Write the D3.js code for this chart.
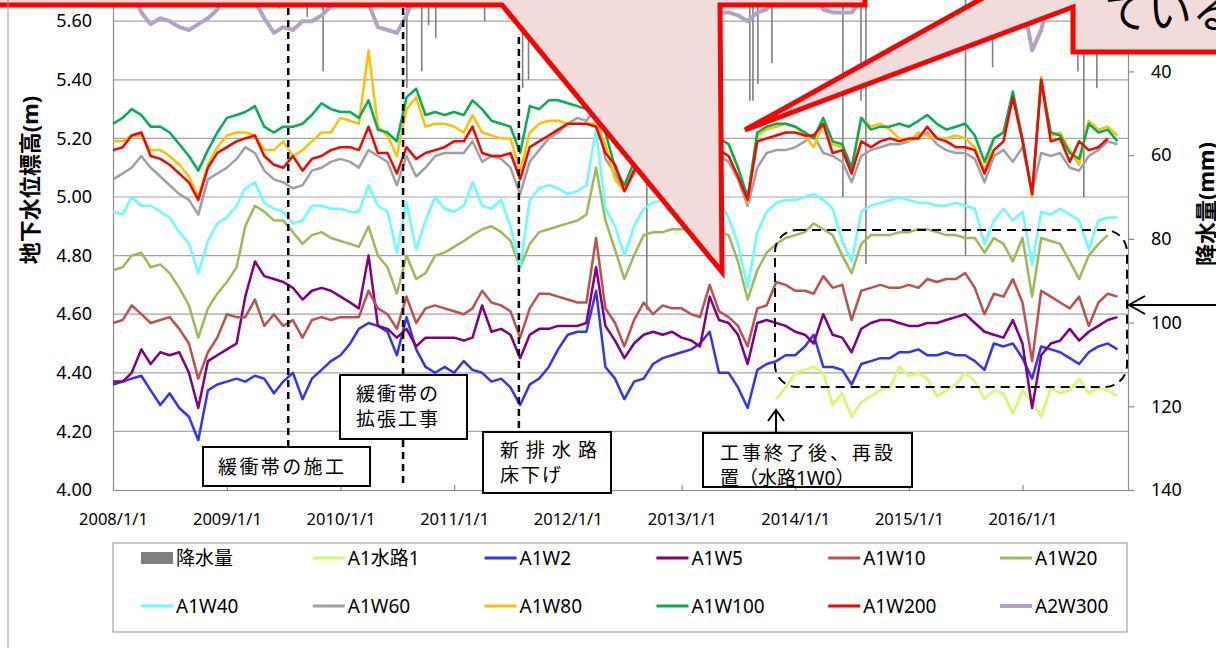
<!DOCTYPE html>
<html>
<head>
<meta charset="utf-8">
<script src="https://cdn.jsdelivr.net/npm/d3@7"></script>
<style>
	body	{ margin: 0; background: #fff; }
	svg		{ display: block; }
	text	{ font-family: "Noto Sans", "Noto Sans CJK JP", sans-serif; fill: #000; }
</style>
</head>
<body>
<svg id="chart" width="1216" height="648"></svg>
<script>
// ---- data (monthly readings, 1st of each month from 2008/1) ----
const startMonth	= new Date(2008, 0, 1);
const suiroStart	= new Date(2013, 10, 1);

// only the ticks that fall inside the visible crop of the slide
const leftTicks		= [4.0, 4.2, 4.4, 4.6, 4.8, 5.0, 5.2, 5.4, 5.6];
const rightTicks	= [40, 60, 80, 100, 120, 140];
const yearTicks		= [2008, 2009, 2010, 2011, 2012, 2013, 2014, 2015, 2016];

const a1Suiro1 = [
	4.31, 4.35,
	4.40, 4.41, 4.42, 4.40, 4.29, 4.33, 4.25, 4.30, 4.32, 4.34, 4.35, 4.42,
	4.39, 4.40, 4.38, 4.32, 4.34, 4.36, 4.40, 4.37, 4.31, 4.34, 4.33, 4.26,
	4.34, 4.30, 4.25, 4.35, 4.33, 4.34, 4.38, 4.33, 4.35, 4.34, 4.32
];
const a1w2 = [
	4.36, 4.37, 4.38, 4.39, 4.34, 4.29, 4.33, 4.28, 4.25, 4.17, 4.34, 4.36,
	4.37, 4.38, 4.37, 4.39, 4.38, 4.33, 4.37, 4.40, 4.31, 4.38, 4.41, 4.44,
	4.46, 4.50, 4.55, 4.57, 4.56, 4.54, 4.46, 4.59, 4.48, 4.42, 4.40, 4.42,
	4.40, 4.44, 4.41, 4.40, 4.37, 4.38, 4.35, 4.29, 4.36, 4.38, 4.42, 4.48,
	4.53, 4.54, 4.54, 4.68, 4.42, 4.38, 4.31, 4.37, 4.38, 4.43, 4.45, 4.46,
	4.47, 4.48, 4.50, 4.54, 4.40, 4.40, 4.35, 4.28, 4.41, 4.43, 4.44, 4.46,
	4.46, 4.49, 4.53, 4.42, 4.42, 4.41, 4.36, 4.43, 4.44, 4.45, 4.45, 4.47,
	4.47, 4.48, 4.46, 4.46, 4.47, 4.46, 4.46, 4.44, 4.41, 4.50, 4.49, 4.50,
	4.45, 4.38, 4.49, 4.48, 4.47, 4.45, 4.43, 4.47, 4.49, 4.50, 4.48
];
const a1w5 = [
	4.37, 4.37, 4.40, 4.48, 4.43, 4.47, 4.46, 4.47, 4.40, 4.28, 4.44, 4.46,
	4.48, 4.50, 4.66, 4.78, 4.73, 4.72, 4.71, 4.69, 4.65, 4.68, 4.69, 4.68,
	4.66, 4.64, 4.62, 4.80, 4.56, 4.55, 4.52, 4.55, 4.49, 4.52, 4.52, 4.52,
	4.52, 4.51, 4.52, 4.63, 4.54, 4.55, 4.53, 4.45, 4.53, 4.55, 4.55, 4.56,
	4.56, 4.56, 4.57, 4.76, 4.56, 4.51, 4.45, 4.50, 4.53, 4.54, 4.53, 4.54,
	4.52, 4.51, 4.49, 4.66, 4.58, 4.57, 4.53, 4.43, 4.57, 4.58, 4.57, 4.56,
	4.54, 4.53, 4.50, 4.60, 4.53, 4.52, 4.47, 4.55, 4.57, 4.58, 4.58, 4.57,
	4.56, 4.56, 4.57, 4.57, 4.58, 4.59, 4.60, 4.57, 4.54, 4.53, 4.52, 4.58,
	4.50, 4.28, 4.46, 4.50, 4.51, 4.55, 4.51, 4.54, 4.56, 4.58, 4.59
];
const a1w10 = [
	4.57, 4.58, 4.63, 4.60, 4.57, 4.58, 4.59, 4.55, 4.50, 4.38, 4.47, 4.52,
	4.60, 4.59, 4.59, 4.65, 4.56, 4.60, 4.56, 4.58, 4.52, 4.58, 4.59, 4.58,
	4.59, 4.59, 4.59, 4.68, 4.62, 4.60, 4.55, 4.66, 4.57, 4.62, 4.63, 4.62,
	4.61, 4.60, 4.62, 4.68, 4.64, 4.63, 4.61, 4.52, 4.62, 4.67, 4.67, 4.66,
	4.65, 4.64, 4.64, 4.86, 4.62, 4.57, 4.49, 4.58, 4.64, 4.60, 4.63, 4.62,
	4.62, 4.60, 4.59, 4.70, 4.61, 4.59, 4.56, 4.49, 4.62, 4.63, 4.71, 4.70,
	4.68, 4.68, 4.67, 4.73, 4.69, 4.70, 4.58, 4.68, 4.69, 4.70, 4.69, 4.69,
	4.70, 4.69, 4.72, 4.71, 4.72, 4.72, 4.74, 4.69, 4.60, 4.67, 4.66, 4.72,
	4.64, 4.44, 4.68, 4.66, 4.64, 4.62, 4.66, 4.56, 4.64, 4.67, 4.66
];
const a1w20 = [
	4.75, 4.76, 4.80, 4.81, 4.76, 4.77, 4.74, 4.69, 4.63, 4.52, 4.62, 4.67,
	4.71, 4.76, 4.90, 4.97, 4.95, 4.92, 4.92, 4.88, 4.84, 4.87, 4.88, 4.86,
	4.85, 4.84, 4.83, 4.90, 4.80, 4.76, 4.67, 4.80, 4.72, 4.74, 4.80, 4.81,
	4.83, 4.85, 4.87, 4.89, 4.90, 4.88, 4.85, 4.76, 4.84, 4.88, 4.89, 4.90,
	4.91, 4.92, 4.94, 5.10, 4.92, 4.82, 4.72, 4.80, 4.87, 4.88, 4.88, 4.89,
	4.89, 4.89, 4.88, 4.89, 4.88, 4.87, 4.78, 4.65, 4.75, 4.81, 4.84, 4.86,
	4.87, 4.88, 4.91, 4.89, 4.87, 4.80, 4.74, 4.84, 4.87, 4.87, 4.87, 4.88,
	4.88, 4.89, 4.89, 4.88, 4.87, 4.87, 4.86, 4.86, 4.81, 4.86, 4.84, 4.78,
	4.86, 4.66, 4.86, 4.85, 4.84, 4.78, 4.72, 4.80, 4.84, 4.87, null
];
const a1w40 = [
	4.95, 4.94, 5.00, 4.97, 4.97, 4.95, 4.93, 4.88, 4.84, 4.74, 4.85, 4.91,
	4.93, 4.97, 5.03, 5.05, 4.98, 4.96, 4.95, 4.91, 4.92, 4.97, 4.97, 4.96,
	4.96, 4.95, 4.95, 5.04, 4.97, 4.95, 4.81, 4.98, 4.82, 4.92, 5.00, 4.96,
	4.95, 4.97, 5.05, 4.97, 4.96, 4.99, 4.90, 4.76, 4.99, 5.03, 5.04, 5.03,
	5.01, 5.02, 5.04, 5.23, 4.96, 4.90, 4.80, 4.90, 4.96, 4.98, 4.99, 5.00,
	5.00, 4.99, 4.99, 5.00, 4.98, 4.93, 4.84, 4.69, 4.88, 4.95, 4.98, 4.99,
	4.99, 5.00, 5.01, 4.99, 4.96, 4.85, 4.78, 4.95, 4.97, 4.98, 4.99, 5.00,
	4.99, 4.98, 4.98, 4.97, 4.97, 4.98, 4.97, 4.96, 4.84, 4.92, 4.96, 4.92,
	4.95, 4.77, 4.95, 4.94, 4.96, 4.94, 4.92, 4.82, 4.92, 4.93, 4.93
];
const a1w60 = [
	5.06, 5.08, 5.10, 5.14, 5.10, 5.07, 5.04, 5.01, 4.99, 4.94, 5.06, 5.08,
	5.10, 5.13, 5.17, 5.15, 5.09, 5.06, 5.05, 5.03, 5.04, 5.09, 5.10, 5.12,
	5.13, 5.12, 5.10, 5.16, 5.14, 5.12, 5.04, 5.14, 5.07, 5.10, 5.14, 5.15,
	5.15, 5.15, 5.19, 5.12, 5.14, 5.13, 5.10, 5.01, 5.12, 5.16, 5.20, 5.22,
	5.25, 5.27, 5.26, 5.30, 5.13, 5.08, 5.02, 5.08, 5.12, 5.14, 5.15, 5.16,
	5.16, 5.16, 5.15, 5.14, 5.14, 5.12, 5.06, 4.97, 5.10, 5.15, 5.16, 5.16,
	5.17, 5.19, 5.21, 5.15, 5.14, 5.12, 5.05, 5.14, 5.16, 5.17, 5.18, 5.18,
	5.19, 5.21, 5.22, 5.18, 5.16, 5.15, 5.15, 5.13, 5.05, 5.14, 5.16, 5.12,
	5.17, 5.02, 5.15, 5.14, 5.15, 5.10, 5.09, 5.14, 5.16, 5.19, 5.18
];
const a1w80 = [
	5.19, 5.19, 5.21, 5.21, 5.16, 5.16, 5.14, 5.11, 5.07, 5.00, 5.11, 5.17,
	5.21, 5.22, 5.22, 5.21, 5.16, 5.16, 5.19, 5.14, 5.16, 5.19, 5.22, 5.22,
	5.27, 5.26, 5.25, 5.50, 5.24, 5.21, 5.14, 5.30, 5.34, 5.24, 5.25, 5.25,
	5.24, 5.22, 5.28, 5.22, 5.21, 5.20, 5.20, 5.09, 5.22, 5.25, 5.26, 5.26,
	5.25, 5.25, 5.25, 5.25, 5.18, 5.06, 5.02, 5.10, 5.16, 5.18, 5.20, 5.21,
	5.21, 5.21, 5.21, 5.22, 5.20, 5.18, 5.10, 4.98, 5.21, 5.23, 5.24, 5.25,
	5.24, 5.21, 5.17, 5.25, 5.18, 5.17, 5.08, 5.27, 5.24, 5.25, 5.23, 5.20,
	5.19, 5.22, 5.21, 5.20, 5.20, 5.21, 5.20, 5.17, 5.09, 5.20, 5.22, 5.35,
	5.20, 5.00, 5.41, 5.21, 5.22, 5.16, 5.11, 5.26, 5.23, 5.24, 5.21
];
const a1w100 = [
	5.25, 5.27, 5.30, 5.28, 5.24, 5.24, 5.22, 5.18, 5.14, 5.09, 5.16, 5.22,
	5.27, 5.28, 5.29, 5.31, 5.24, 5.22, 5.24, 5.24, 5.25, 5.28, 5.32, 5.30,
	5.29, 5.29, 5.27, 5.33, 5.23, 5.22, 5.19, 5.34, 5.37, 5.28, 5.29, 5.28,
	5.29, 5.28, 5.33, 5.30, 5.26, 5.25, 5.24, 5.15, 5.31, 5.30, 5.33, 5.33,
	5.32, 5.31, 5.30, 5.28, 5.22, 5.10, 5.04, 5.12, 5.18, 5.20, 5.22, 5.23,
	5.23, 5.22, 5.22, 5.22, 5.20, 5.18, 5.10, 5.00, 5.22, 5.24, 5.25, 5.25,
	5.24, 5.22, 5.20, 5.27, 5.19, 5.18, 5.10, 5.27, 5.23, 5.24, 5.24, 5.25,
	5.24, 5.26, 5.28, 5.25, 5.23, 5.24, 5.25, 5.21, 5.12, 5.20, 5.22, 5.36,
	5.20, 5.01, 5.40, 5.22, 5.21, 5.15, 5.13, 5.25, 5.22, 5.23, 5.19
];
const a1w200 = [
	5.16, 5.17, 5.21, 5.22, 5.14, 5.13, 5.11, 5.08, 5.05, 4.99, 5.10, 5.15,
	5.17, 5.19, 5.20, 5.21, 5.14, 5.11, 5.10, 5.14, 5.09, 5.13, 5.14, 5.16,
	5.17, 5.17, 5.16, 5.24, 5.15, 5.15, 5.08, 5.17, 5.13, 5.15, 5.16, 5.17,
	5.19, 5.19, 5.24, 5.15, 5.14, 5.14, 5.15, 5.06, 5.17, 5.19, 5.21, 5.23,
	5.25, 5.25, 5.25, 5.24, 5.15, 5.11, 5.02, 5.09, 5.14, 5.16, 5.17, 5.18,
	5.18, 5.18, 5.17, 5.17, 5.16, 5.14, 5.07, 4.99, 5.19, 5.20, 5.21, 5.22,
	5.22, 5.21, 5.21, 5.25, 5.15, 5.16, 5.08, 5.19, 5.17, 5.19, 5.20, 5.19,
	5.20, 5.20, 5.24, 5.20, 5.19, 5.17, 5.17, 5.16, 5.08, 5.16, 5.19, 5.34,
	5.19, 5.01, 5.40, 5.19, 5.20, 5.12, 5.19, 5.16, 5.17, 5.20, null
];
const a2w300 = [
	5.70, 5.71, 5.70, 5.63, 5.59, 5.61, 5.60, 5.58, 5.57, 5.59, 5.61, 5.64,
	5.70, 5.72, 5.72, 5.67, 5.61, 5.56, 5.58, 5.57, 5.60, 5.60, 5.62, 5.65,
	5.70, 5.72, 5.71, 5.66, 5.58, 5.57, 5.56, 5.62, 5.70, 5.72, 5.73, 5.72,
	5.72, 5.73, 5.72, 5.71, 5.72, 5.73, 5.72, 5.71, 5.72, 5.73, 5.72, 5.72,
	5.73, 5.72, 5.72, 5.71, 5.72, 5.73, 5.72, 5.72, 5.71, 5.72, 5.73, 5.72,
	5.72, 5.73, 5.72, 5.70, 5.63, 5.63, 5.62, 5.60, 5.63, 5.64, 5.68, 5.72,
	5.72, 5.73, 5.70, 5.64, 5.63, 5.63, 5.63, 5.67, 5.72, 5.73, 5.72, 5.72,
	5.72, 5.73, 5.72, 5.71, 5.72, 5.73, 5.72, 5.72, 5.71, 5.72, 5.73, 5.72,
	5.68, 5.50, 5.57, 5.70, 5.72, 5.73, 5.72, 5.72, 5.71, 5.72, 5.72
];

// daily rainfall (mm) on the days whose bars reach into the visible part of the plot
const rainDates		= ['2009-06-19', '2009-09-16', '2009-11-06', '2010-08-02', '2010-09-19', '2010-10-11', '2010-11-03', '2011-04-09', '2011-08-09', '2011-08-28', '2012-09-11', '2013-08-08', '2013-08-18', '2013-09-03', '2013-10-18', '2014-06-03', '2014-07-31', '2014-08-16', '2015-07-02', '2015-09-27', '2016-06-27', '2016-07-16', '2016-08-27'];
const rainValues	= [25, 27, 40, 44, 40, 29, 32, 28, 44, 42, 97, 47, 47, 43, 38, 70, 47, 86, 84, 39, 40, 70, 44];

const eventDates	= ['2009-07-17', '2010-07-21', '2011-07-28'];

const series = [
	{ name: 'A1水路1',	start: suiroStart,	values: a1Suiro1,	color: '#ccff66',	width: 2.5 },
	{ name: 'A1W2',		start: startMonth,	values: a1w2,		color: '#3333ff',	width: 2.5 },
	{ name: 'A1W5',		start: startMonth,	values: a1w5,		color: '#800080',	width: 2.5 },
	{ name: 'A1W10',	start: startMonth,	values: a1w10,		color: '#c0504d',	width: 2.5 },
	{ name: 'A1W20',	start: startMonth,	values: a1w20,		color: '#9bbb59',	width: 2.5 },
	{ name: 'A1W40',	start: startMonth,	values: a1w40,		color: '#66ffff',	width: 2.5 },
	{ name: 'A1W60',	start: startMonth,	values: a1w60,		color: '#a0a0a0',	width: 2.5 },
	{ name: 'A1W80',	start: startMonth,	values: a1w80,		color: '#ffc000',	width: 2.5 },
	{ name: 'A1W100',	start: startMonth,	values: a1w100,		color: '#00b050',	width: 2.5 },
	{ name: 'A1W200',	start: startMonth,	values: a1w200,		color: '#ff0000',	width: 2.5 },
	{ name: 'A2W300',	start: startMonth,	values: a2w300,		color: '#b3a2c7',	width: 4 }
];

// ---- scales ----
const parse	= d3.timeParse('%Y-%m-%d');
const svg	= d3.select('#chart');

// plot runs 4.0..6.0 (0..140 mm reversed); the slide crop hides everything above 5.66
const x		= d3.scaleTime().domain([new Date(2008, 0, 1), new Date(2016, 11, 5)]).range([113, 1128]);
const yL	= d3.scaleLinear().domain([4, 6]).range([490, -96]);
const yR	= d3.scaleLinear().domain([0, 140]).range([-96, 490]);

// gridlines
svg.append('g').selectAll('line').data(leftTicks.slice(1)).enter().append('line')
	.attr('x1', 113).attr('x2', 1128)
	.attr('y1', d => yL(d)).attr('y2', d => yL(d))
	.attr('stroke', '#a6a6a6').attr('stroke-width', 1.2);

// axes
let axL = svg.append('g').attr('transform', 'translate(113,0)')
	.call(d3.axisLeft(yL).tickValues(leftTicks).tickFormat(d3.format('.2f')).tickSize(0).tickPadding(21));
let axR = svg.append('g').attr('transform', 'translate(1128,0)')
	.call(d3.axisRight(yR).tickValues(rightTicks).tickSizeInner(6).tickSizeOuter(0).tickPadding(17));
let axB = svg.append('g').attr('transform', 'translate(0,490)')
	.call(d3.axisBottom(x).tickValues(yearTicks.map(y => new Date(y, 0, 1)))
		.tickFormat(d => d.getFullYear() + '/1/1').tickSizeInner(-5).tickSizeOuter(0).tickPadding(23));

[axL, axR, axB].forEach(a => {
	a.selectAll('path, line').attr('stroke', '#8c8c8c').attr('stroke-width', 1.2);
	a.selectAll('text').attr('fill', '#111').style('font-family', '"Noto Sans", sans-serif');
});
axL.selectAll('text').style('font-size', '18px');
axR.selectAll('text').style('font-size', '18px');
axB.selectAll('text').style('font-size', '16.5px');

// rainfall bars hang from the top of the reversed secondary axis
svg.append('g').selectAll('rect').data(rainDates.map((d, i) => ({ date: parse(d), v: rainValues[i] }))).enter().append('rect')
	.attr('x', d => x(d.date) - 0.8)
	.attr('y', yR(0))
	.attr('width', 1.6)
	.attr('height', d => yR(d.v) - yR(0))
	.attr('fill', '#808080');

// water level lines
let line = d3.line()
	.defined(d => d.v != null)
	.x(d => x(d.date))
	.y(d => yL(d.v));

svg.append('g').selectAll('path').data(series).enter().append('path')
	.attr('d', s => line(s.values.map((v, i) => ({ date: d3.timeMonth.offset(s.start, i), v: v }))))
	.attr('fill', 'none')
	.attr('stroke', s => s.color)
	.attr('stroke-width', s => s.width)
	.attr('stroke-linejoin', 'round');

// ---- annotations ----
let ann = svg.append('g');
let evEnds = [[8, 447], [8, 487], [37, 432]];
eventDates.forEach((d, i) => {
	ann.append('line')
		.attr('x1', x(parse(d))).attr('x2', x(parse(d)))
		.attr('y1', evEnds[i][0]).attr('y2', evEnds[i][1])
		.attr('stroke', '#000').attr('stroke-width', 2.5).attr('stroke-dasharray', '7,5');
});

ann.append('rect')
	.attr('x', 775).attr('y', 230).attr('width', 352).attr('height', 157).attr('rx', 22)
	.attr('fill', 'none').attr('stroke', '#000').attr('stroke-width', 2).attr('stroke-dasharray', '9,6');

// arrows
ann.append('path').attr('d', 'M1216,305 L1129,305 M1145,296 L1129,305 L1145,314')
	.attr('fill', 'none').attr('stroke', '#000').attr('stroke-width', 2);
ann.append('path').attr('d', 'M776,433 L776,410 M768,421 L776,410 L784,421')
	.attr('fill', 'none').attr('stroke', '#000').attr('stroke-width', 2);

let boxes = [
	{ x: 203, y: 447, w: 167, h: 39, lines: [{ t: '緩衝帯の施工', x: 218, y: 467, ls: 2.4 }] },
	{ x: 340, y: 375, w: 127, h: 64, lines: [{ t: '緩衝帯の', x: 356, y: 394, ls: 2 }, { t: '拡張工事', x: 356, y: 419, ls: 2 }] },
	{ x: 483, y: 432, w: 128, h: 61, lines: [{ t: '新排水路', x: 500, y: 450, ls: 7 }, { t: '床下げ', x: 500, y: 475, ls: 2 }] },
	{ x: 703, y: 433, w: 209, h: 54, lines: [{ t: '工事終了後、再設', x: 720, y: 453, ls: 3 }, { t: '置（水路1W0）', x: 720, y: 478, ls: 0 }] }
];
boxes.forEach(b => {
	ann.append('rect')
		.attr('x', b.x).attr('y', b.y).attr('width', b.w).attr('height', b.h)
		.attr('fill', '#fff').attr('stroke', '#000').attr('stroke-width', 2);
	b.lines.forEach(l => {
		ann.append('text')
			.attr('x', l.x).attr('y', l.y)
			.attr('dominant-baseline', 'central')
			.style('font-size', '19px')
			.style('letter-spacing', l.ls + 'px')
			.text(l.t);
	});
});

// red callouts pasted over the chart
let callouts = [
	[[-20, -200], [-20, 5], [502, 5], [722, 272], [720, 5], [865, 5], [865, -200]],
	[[1073, -52], [745, 130], [1073, 7], [1073, 52], [1240, 52], [1240, -200], [1073, -200]]
];
svg.append('g').selectAll('path').data(callouts).enter().append('path')
	.attr('d', d => 'M' + d.join('L') + 'Z')
	.attr('fill', '#f2dcdb')
	.attr('stroke', '#ff0000')
	.attr('stroke-width', 5)
	.attr('stroke-linejoin', 'miter');

svg.append('text')
	.attr('x', 1104).attr('y', 28)
	.style('font-size', '44px')
	.text('ている');

// axis titles
svg.append('text')
	.attr('transform', 'translate(29,180) rotate(-90)')
	.attr('text-anchor', 'middle').attr('dominant-baseline', 'central')
	.style('font-size', '22px').style('font-weight', 'bold')
	.text('地下水位標高(m)');
svg.append('text')
	.attr('transform', 'translate(1205,204) rotate(-90)')
	.attr('text-anchor', 'middle').attr('dominant-baseline', 'central')
	.style('font-size', '22px').style('font-weight', 'bold')
	.text('降水量(mm)');

// ---- legend ----
let legendItems = [{ name: '降水量', color: '#808080', bar: true }].concat(series);
let legend = svg.append('g');
legend.append('rect')
	.attr('x', 113).attr('y', 543).attr('width', 1014).attr('height', 89)
	.attr('fill', '#fff').attr('stroke', '#a6a6a6').attr('stroke-width', 1.2);

let item = legend.selectAll('g.item').data(legendItems).enter().append('g')
	.attr('class', 'item')
	.attr('transform', (d, i) => 'translate(' + (141 + (i % 6) * 171.8) + ',' + (558 + Math.floor(i / 6) * 48) + ')');

item.filter(d => d.bar).append('rect')
	.attr('x', 0).attr('y', -6).attr('width', 32).attr('height', 12)
	.attr('fill', d => d.color);
item.filter(d => !d.bar).append('line')
	.attr('x1', 0).attr('x2', 32)
	.attr('stroke', d => d.color)
	.attr('stroke-width', d => d.width === 4 ? 4 : 3);
item.append('text')
	.attr('x', 35).attr('y', 0)
	.attr('dominant-baseline', 'central')
	.style('font-size', '19px')
	.text(d => d.name);

// outer border of the chart area
svg.append('line').attr('x1', 8).attr('x2', 8).attr('y1', 0).attr('y2', 648)
	.attr('stroke', '#9a9a9a').attr('stroke-width', 1);
</script>
</body>
</html>
